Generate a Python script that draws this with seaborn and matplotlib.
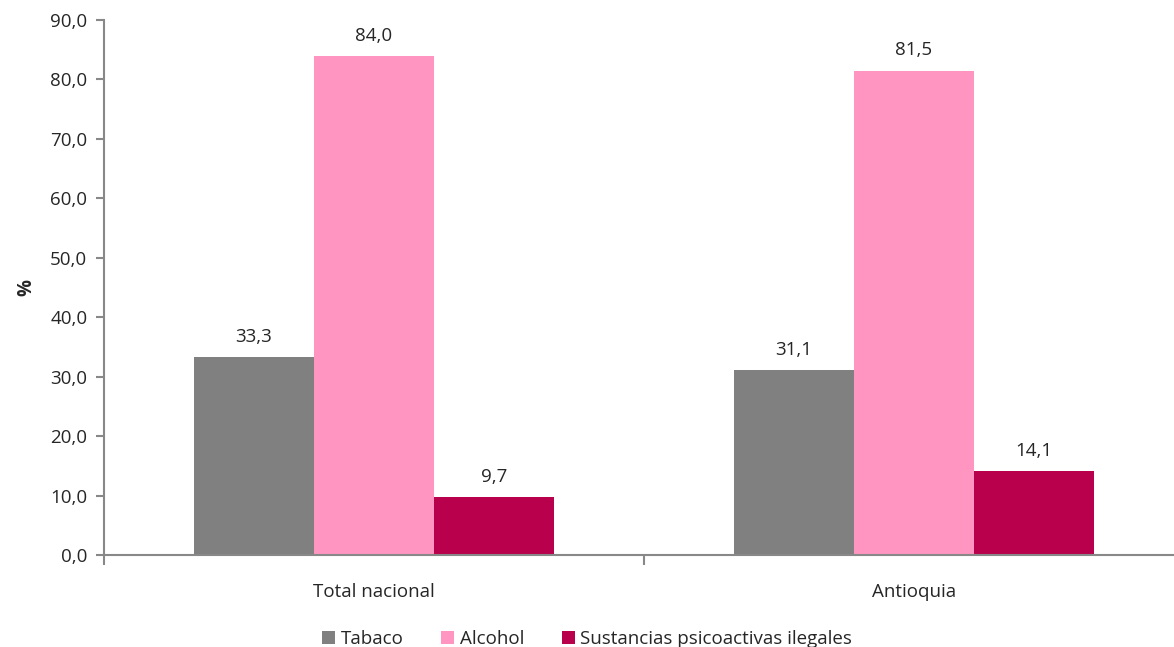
"""Consumo de sustancias: Total nacional vs Antioquia."""

import matplotlib

matplotlib.use("Agg")

import matplotlib.pyplot as plt
import matplotlib.ticker as mticker
import pandas as pd
import seaborn as sns

regions = ["Total nacional", "Antioquia"]
substances = ["Tabaco", "Alcohol", "Sustancias psicoactivas ilegales"]
tabaco = [33.3, 31.1]
alcohol = [84.0, 81.5]
ilegales = [9.7, 14.1]
colors = ["#808080", "#FF95C0", "#B8004D"]

df = pd.DataFrame({
    "region": regions * 3,
    "sustancia": [s for s in substances for _ in regions],
    "valor": tabaco + alcohol + ilegales,
})

sns.set_style("white", {"xtick.bottom": True, "ytick.left": True})
plt.rcParams["font.family"] = ["Open Sans", "DejaVu Sans"]
fs = 13.5

fig = plt.figure(figsize=(11.74, 6.47), dpi=100)
ax = fig.add_axes([104 / 1174, 1 - 555 / 647, 1080 / 1174, 535 / 647])

sns.barplot(data=df, x="region", y="valor", hue="sustancia", hue_order=substances,
            palette=colors, width=2 / 3, saturation=1, linewidth=0, ax=ax)

for container in ax.containers:
    ax.bar_label(container, labels=[f"{v:.1f}".replace(".", ",") for v in container.datavalues],
                 padding=8, fontsize=fs)

ax.set_xlim(-0.5, 1.5)
ax.set_ylim(0, 90)
ax.yaxis.set_major_locator(mticker.MultipleLocator(10))
ax.yaxis.set_major_formatter(mticker.FuncFormatter(lambda v, _: f"{v:.1f}".replace(".", ",")))
ax.set_xticks([0, 1])
ax.set_xticklabels(regions)
ax.set_xticks([-0.5, 0.5, 1.5], minor=True)
ax.tick_params(axis="x", which="major", length=0, pad=20, labelsize=fs)
ax.tick_params(axis="x", which="minor", bottom=True, length=7, color="#888888", width=1.5)
ax.tick_params(axis="y", which="major", left=True, length=6, color="#888888", width=1.5,
               labelsize=fs, pad=6)

sns.despine(ax=ax)
for side in ["left", "bottom"]:
    ax.spines[side].set_color("#888888")
    ax.spines[side].set_linewidth(1.5)

ax.set_xlabel("")
ax.set_ylabel("%", fontweight="bold", fontsize=fs, labelpad=10)

ax.legend(loc="lower center", bbox_to_anchor=(0.5 * 1174 / 1080 - 104 / 1080, -0.205),
          bbox_transform=ax.transAxes, ncol=3, frameon=False, fontsize=fs,
          handlelength=0.7, handleheight=0.7, handletextpad=0.3, columnspacing=2.0)

fig.savefig("out.png", dpi=100)
plt.close(fig)
